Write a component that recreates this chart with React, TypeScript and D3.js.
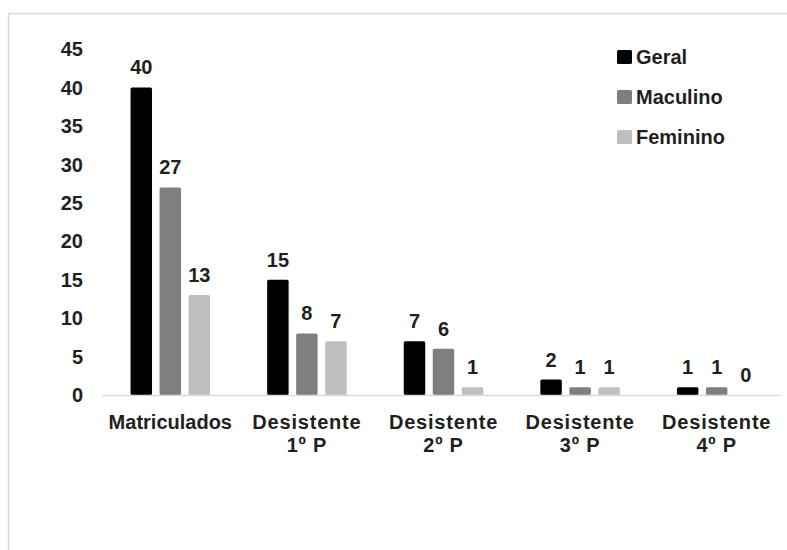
import React from "react";
import * as d3 from "d3";

const categories = ["Matriculados", "Desistente\n1º P", "Desistente\n2º P", "Desistente\n3º P", "Desistente\n4º P"];
const seriesNames = ["Geral", "Maculino", "Feminino"];
const geral = [40, 15, 7, 2, 1];
const maculino = [27, 8, 6, 1, 1];
const feminino = [13, 7, 1, 1, 0];
const yTicks = [0, 5, 10, 15, 20, 25, 30, 35, 40, 45];
const colors = ["#000000", "#7f7f7f", "#bfbfbf"];

const W = 787;
const H = 550;
const FONT = "'Liberation Sans', Arial, sans-serif";
const TEXT = "#1f1f1f";
const GROUP_W = 79.5;

export default function App() {
  const series = [geral, maculino, feminino];
  const x0 = d3.scaleBand<number>().domain(d3.range(categories.length)).range([102, 785]);
  const x1 = d3.scaleBand<number>().domain(d3.range(series.length)).range([0, GROUP_W]).paddingInner(0.26);
  const groupOffset = (x0.bandwidth() - GROUP_W) / 2;
  const y = d3.scaleLinear().domain([0, 45]).range([395, 49]);

  return (
    <svg
      width={W}
      height={H}
      style={{ position: "absolute", left: 0, top: 0, background: "#fff" }}
      fontFamily={FONT}
    >
      {/* chart frame */}
      <path d={`M8.5,${H} V13.5 H${W}`} fill="none" stroke="#d9d9d9" strokeWidth={1.5} />

      {/* y tick labels */}
      {yTicks.map((t) => (
        <text
          key={t}
          x={83}
          y={y(t)}
          dy="0.36em"
          textAnchor="end"
          fontSize={20}
          fontWeight="bold"
          fill={TEXT}
        >
          {t}
        </text>
      ))}

      {/* bars and value labels */}
      {categories.map((_, ci) => (
        <g key={ci} transform={`translate(${x0(ci)! + groupOffset},0)`}>
          {series.map((vals, si) => {
            const v = vals[ci];
            const bx = x1(si)!;
            const bw = x1.bandwidth();
            return (
              <g key={si}>
                <rect x={bx} y={y(v)} width={bw} height={y(0) - y(v)} fill={colors[si]} rx={1.5} />
                <text
                  x={bx + bw / 2}
                  y={y(v) - 13}
                  textAnchor="middle"
                  fontSize={20}
                  fontWeight="bold"
                  fill={TEXT}
                >
                  {v}
                </text>
              </g>
            );
          })}
        </g>
      ))}

      {/* baseline */}
      <line x1={102} x2={781} y1={395.5} y2={395.5} stroke="#d9d9d9" strokeWidth={1.5} />

      {/* category labels */}
      {categories.map((c, ci) => {
        const lines = c.split("\n");
        const cx = x0(ci)! + x0.bandwidth() / 2;
        return (
          <text
            key={ci}
            x={cx}
            y={429}
            textAnchor="middle"
            fontSize={20}
            fontWeight="bold"
            fill={TEXT}
            letterSpacing={ci === 0 ? 0 : 0.8}
          >
            {lines.map((l, li) => (
              <tspan key={li} x={cx} dy={li === 0 ? 0 : 23}>
                {l}
              </tspan>
            ))}
          </text>
        );
      })}

      {/* legend */}
      {seriesNames.map((n, i) => {
        const cy = 57 + i * 40;
        return (
          <g key={n}>
            <rect x={617} y={cy - 7} width={15} height={14} fill={colors[i]} rx={1.5} />
            <text x={636} y={cy} dy="0.36em" fontSize={20} fontWeight="bold" fill={TEXT}>
              {n}
            </text>
          </g>
        );
      })}
    </svg>
  );
}
